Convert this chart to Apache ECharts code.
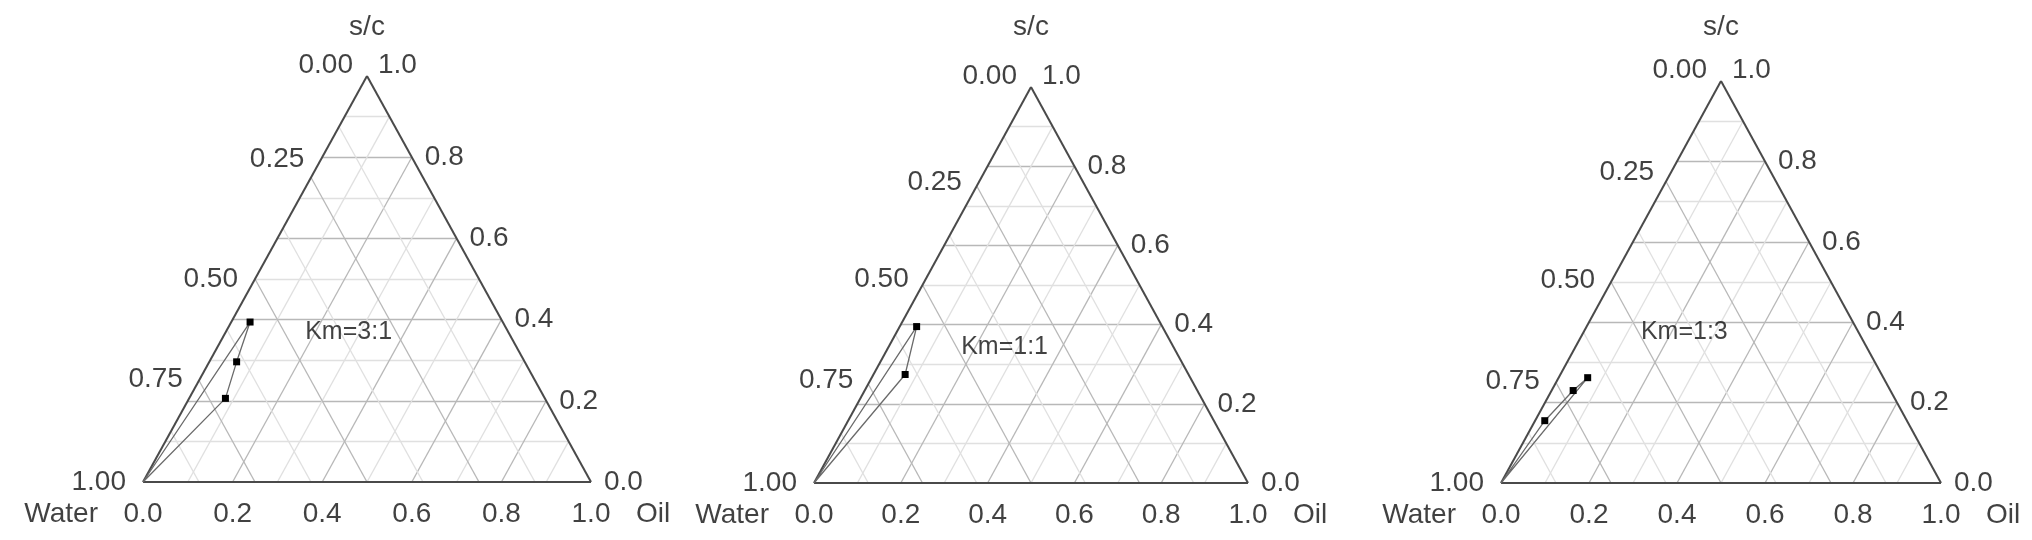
<!DOCTYPE html>
<html>
<head>
<meta charset="utf-8">
<script src="https://cdn.jsdelivr.net/npm/echarts@6/dist/echarts.min.js"></script>
<style>
  html, body { margin: 0; padding: 0; background: #fff; }
  #chart { width: 2032px; height: 540px; }
</style>
</head>
<body>
<div id="chart"></div>
<script>
// axis ticks and labels
var oilTicks = [0, 0.2, 0.4, 0.6, 0.8, 1.0]
var oilTickLabels = ['0.0', '0.2', '0.4', '0.6', '0.8', '1.0']
var scTicks = [0, 0.2, 0.4, 0.6, 0.8, 1.0]
var scTickLabels = ['0.0', '0.2', '0.4', '0.6', '0.8', '1.0']
var waterTicks = [0, 0.25, 0.5, 0.75, 1.0]
var waterTickLabels = ['0.00', '0.25', '0.50', '0.75', '1.00']

// grid line levels
var scGrid = [0.1, 0.2, 0.3, 0.4, 0.5, 0.6, 0.7, 0.8, 0.9]
var oilGrid = [0.1, 0.2, 0.3, 0.4, 0.5, 0.6, 0.7, 0.8, 0.9]
var waterGrid = [0.125, 0.25, 0.375, 0.5, 0.625, 0.75, 0.875]

// measured points (oil fraction, s/c fraction), water = 1 - oil - s/c
var kmNames = ['Km=3:1', 'Km=1:1', 'Km=1:3']
var km31Oil = [0.042, 0.061, 0.081]
var km31Sc = [0.394, 0.296, 0.206]
var km11Oil = [0.039, 0.073]
var km11Sc = [0.395, 0.274]
var km13Oil = [0.022, 0.049, 0.066]
var km13Sc = [0.155, 0.230, 0.262]

var FONT = 'Liberation Sans, Arial, sans-serif'
var TXT = '#111'

var panels = [
    { left: 143, top: 76, width: 448, height: 406, name: kmNames[0], oil: km31Oil, sc: km31Sc,
      waterAt: [1, 0.796, 0.5, 0.254, 0], kmAt: [0.362, 0.370] },
    { left: 814, top: 87, width: 434, height: 396, name: kmNames[1], oil: km11Oil, sc: km11Sc,
      waterAt: [1, 0.76, 0.515, 0.26, 0], kmAt: [0.339, 0.343] },
    { left: 1501, top: 81, width: 440, height: 402, name: kmNames[2], oil: km13Oil, sc: km13Sc,
      waterAt: [1, 0.773, 0.505, 0.254, 0], kmAt: [0.318, 0.376] }
]

// ternary (oil, s/c) -> cartesian
function cart (oil, sc) {
    return [oil + sc / 2, sc]
}

function isMajor (v, step) {
    var r = v / step
    return Math.abs(r - Math.round(r)) < 1e-6
}

function lbl (text, position, extra) {
    var l = {
        show: true,
        formatter: text,
        position: position,
        fontFamily: FONT,
        fontSize: 28,
        color: TXT
    }
    for (var k in extra) l[k] = extra[k]
    return l
}

var grids = [], xAxes = [], yAxes = [], series = []

panels.forEach(function (p, i) {
    grids.push({ left: p.left, top: p.top, width: p.width, height: p.height, show: false })
    xAxes.push({ type: 'value', gridIndex: i, min: 0, max: 1, show: false })
    yAxes.push({ type: 'value', gridIndex: i, min: 0, max: 1, show: false })

    var major = { color: '#b8b8b8', width: 1.3, opacity: 1 }
    var minor = { color: '#e0e0e0', width: 1.3, opacity: 1 }

    var gl = []
    scGrid.forEach(function (s) {
        gl.push({ coords: [cart(0, s), cart(1 - s, s)], lineStyle: isMajor(s, 0.2) ? major : minor })
    })
    oilGrid.forEach(function (o) {
        gl.push({ coords: [cart(o, 0), cart(o, 1 - o)], lineStyle: isMajor(o, 0.2) ? major : minor })
    })
    waterGrid.forEach(function (w) {
        gl.push({ coords: [cart(1 - w, 0), cart(0, 1 - w)], lineStyle: isMajor(w, 0.25) ? major : minor })
    })
    series.push({
        type: 'lines', coordinateSystem: 'cartesian2d', xAxisIndex: i, yAxisIndex: i,
        silent: true, z: 1, lineStyle: { opacity: 1 }, data: gl
    })

    // triangle frame
    series.push({
        type: 'lines', coordinateSystem: 'cartesian2d', xAxisIndex: i, yAxisIndex: i,
        silent: true, z: 2,
        lineStyle: { color: '#4a4a4a', width: 2, opacity: 1 },
        data: [
            { coords: [cart(0, 0), cart(1, 0)] },
            { coords: [cart(1, 0), cart(0, 1)] },
            { coords: [cart(0, 1), cart(0, 0)] }
        ]
    })

    // region boundary from the water corner through the points
    var pts = [{ value: cart(0, 0), symbol: 'none' }]
    p.oil.forEach(function (o, j) {
        pts.push({ value: cart(o, p.sc[j]) })
    })
    pts.push({ value: cart(0, 0), symbol: 'none' })
    series.push({
        type: 'line', xAxisIndex: i, yAxisIndex: i, z: 3,
        symbol: 'rect', symbolSize: 7, showAllSymbol: true, clip: false,
        itemStyle: { color: '#000' },
        lineStyle: { color: '#6a6a6a', width: 1.3 },
        data: pts
    })

    // text labels
    var tl = []
    oilTicks.forEach(function (o, j) {
        tl.push({ value: cart(o, 0), label: lbl(oilTickLabels[j], 'bottom', { distance: 18 }) })
    })
    scTicks.forEach(function (s, j) {
        var ex = { distance: s === 1 ? 11 : 13 }
        if (s === 1) ex.offset = [0, -11]
        tl.push({ value: cart(1 - s, s), label: lbl(scTickLabels[j], 'right', ex) })
    })
    waterTicks.forEach(function (w, j) {
        var lv = p.waterAt[j]
        var ex = { distance: lv === 1 ? 14 : 17 }
        if (lv === 1) ex.offset = [0, -11]
        tl.push({ value: cart(0, lv), label: lbl(waterTickLabels[j], 'left', ex) })
    })
    tl.push({ value: cart(0, 0), label: lbl('Water', 'left', { distance: 45, offset: [0, 32] }) })
    tl.push({ value: cart(1, 0), label: lbl('Oil', 'right', { distance: 45, offset: [0, 32] }) })
    tl.push({ value: cart(0, 1), label: lbl('s/c', 'inside', { offset: [0, 27 - p.top] }) })
    tl.push({ value: p.kmAt, label: lbl(p.name, 'right', { distance: 0, fontSize: 25 }) })

    series.push({
        type: 'scatter', xAxisIndex: i, yAxisIndex: i, z: 4, silent: true,
        symbolSize: 0, clip: false,
        data: tl
    })
})

var chart = echarts.init(document.getElementById('chart'))
chart.setOption({
    animation: false,
    backgroundColor: '#fff',
    textStyle: { fontFamily: FONT },
    grid: grids,
    xAxis: xAxes,
    yAxis: yAxes,
    series: series
})
</script>
</body>
</html>
